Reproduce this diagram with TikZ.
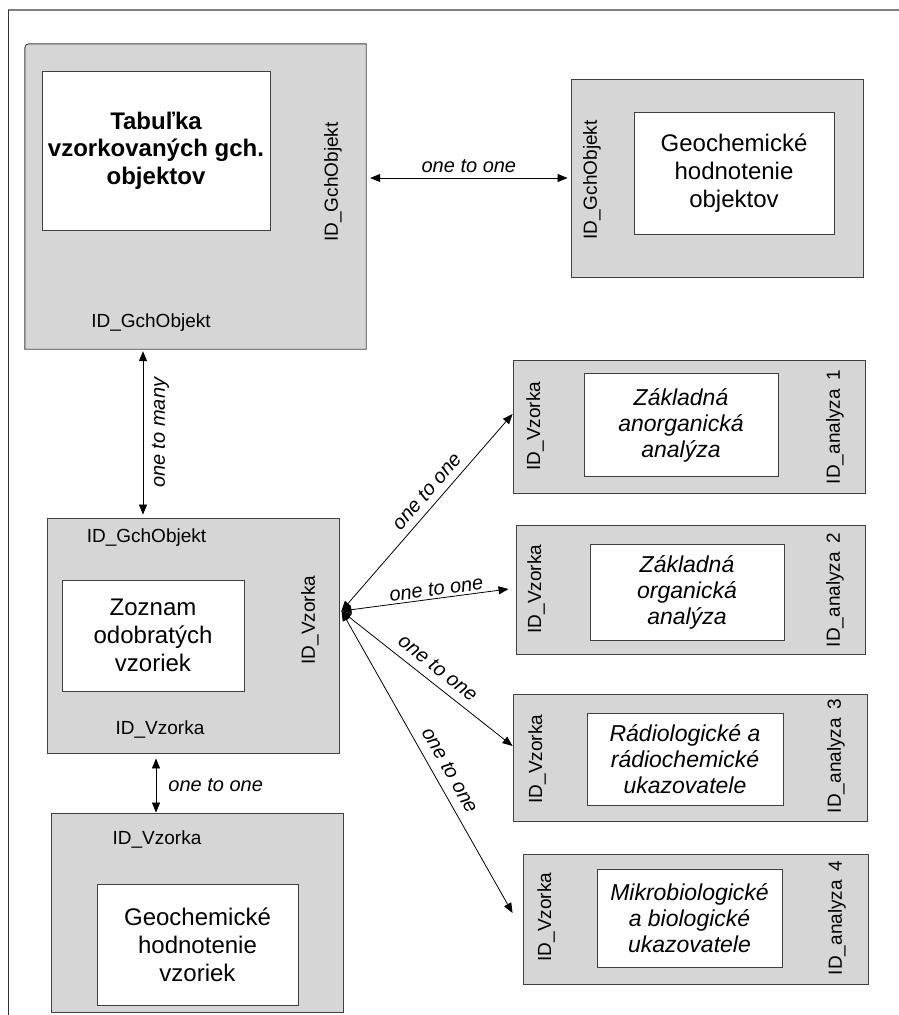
\documentclass[tikz,border=0pt]{standalone}
\usepackage{fontspec}
\setmainfont{Liberation Sans}
\usetikzlibrary{arrows.meta,calc}
\definecolor{boxgray}{HTML}{D6D6D6}
\definecolor{edge}{HTML}{404040}
\begin{document}
\begin{tikzpicture}[x=1pt,y=-1pt,
  outerbox/.style={draw=edge,line width=0.9pt,fill=boxgray,inner sep=0pt},
  innerbox/.style={draw=edge,line width=0.8pt,fill=white,inner sep=0pt,align=center},
  boxtext/.style={font=\fontsize{24}{28}\selectfont},
  ittext/.style={font=\fontsize{23}{26}\selectfont\itshape},
  bftext/.style={font=\fontsize{24}{27.5}\selectfont\bfseries},
  keylabel/.style={font=\fontsize{19}{22}\selectfont,inner sep=0pt},
  vkey/.style={keylabel,rotate=90},
  rel/.style={draw=black,line width=0.8pt,{Triangle[length=10pt,width=8pt]}-{Triangle[length=10pt,width=8pt]}},
  rellabel/.style={font=\fontsize{20}{22}\selectfont\itshape,inner sep=2pt},
]
\useasboundingbox (0,0) rectangle (898,1015);
% outer frame
\draw[line width=1.8pt,draw=black!50] (8,10) -- (905,10);
\draw[line width=1pt,draw=black!80] (8,10) -- (8,1025);

% box 1 (rounded top-left corner)
\node[inner sep=0pt,minimum width=341pt,minimum height=305pt] (b1) at (195.5,196.5) {};
\filldraw[fill=boxgray,draw=edge,line width=0.9pt]
  (b1.south west) -- ([yshift=-9pt]b1.north west) .. controls (b1.north west) .. ([xshift=9pt]b1.north west)
  -- (b1.north east) -- (b1.south east) -- cycle;
\node[innerbox,bftext,minimum width=228pt,minimum height=159pt] (t1) at (156,150.5) {Tabuľka\\vzorkovaných gch.\\objektov};
\node[vkey] (k1a) at (333,182) {ID\_GchObjekt};
\node[keylabel] (k1b) at (151,323) {ID\_GchObjekt};

% box 2
\node[outerbox,minimum width=292pt,minimum height=198pt] (b2) at (717,178) {};
\node[innerbox,boxtext,minimum width=200pt,minimum height=122pt] (t2) at (734,173) {Geochemické\\hodnotenie\\objektov};
\node[vkey] (k2) at (592,180) {ID\_GchObjekt};

% box 3
\node[outerbox,minimum width=292pt,minimum height=235pt] (b3) at (193,635.5) {};
\node[innerbox,boxtext,minimum width=182pt,minimum height=111pt] (t3) at (153,635.5) {Zoznam\\odobratých\\vzoriek};
\node[keylabel] (k3a) at (146.5,538) {ID\_GchObjekt};
\node[keylabel] (k3b) at (160,729) {ID\_Vzorka};
\node[vkey] (k3c) at (310,620) {ID\_Vzorka};

% box 4
\node[outerbox,minimum width=352pt,minimum height=133pt] (b4) at (689,426.5) {};
\node[innerbox,ittext,minimum width=194pt,minimum height=103pt] (t4) at (681,425) {Základná\\anorganická\\analýza};
\node[vkey] (k4a) at (535,426) {ID\_Vzorka};
\node[vkey] (k4b) at (835,427) {ID\_analyza\hspace{0.45em}1};

% box 5
\node[outerbox,minimum width=349pt,minimum height=129pt] (b5) at (690.5,589.5) {};
\node[innerbox,ittext,minimum width=194pt,minimum height=96pt] (t5) at (687,592) {Základná\\organická\\analýza};
\node[vkey] (k5a) at (536,589) {ID\_Vzorka};
\node[vkey] (k5b) at (835,590) {ID\_analyza\hspace{0.45em}2};

% box 6
\node[outerbox,minimum width=354pt,minimum height=127pt] (b6) at (690,757.5) {};
\node[innerbox,ittext,minimum width=196pt,minimum height=92pt] (t6) at (685,759) {Rádiologické a\\rádiochemické\\ukazovatele};
\node[vkey] (k6a) at (537,759) {ID\_Vzorka};
\node[vkey] (k6b) at (836,756) {ID\_analyza\hspace{0.45em}3};

% box 7
\node[outerbox,minimum width=345pt,minimum height=130pt] (b7) at (695.5,919) {};
\node[innerbox,ittext,minimum width=185pt,minimum height=98pt] (t7) at (689.5,918) {Mikrobiologické\\a biologické\\ukazovatele};
\node[vkey] (k7a) at (546,917) {ID\_Vzorka};
\node[vkey] (k7b) at (837,918) {ID\_analyza\hspace{0.45em}4};

% box 8
\node[outerbox,minimum width=292pt,minimum height=199pt] (b8) at (197,912.5) {};
\node[innerbox,boxtext,minimum width=201pt,minimum height=121pt] (t8) at (197.5,944.5) {Geochemické\\hodnotenie\\vzoriek};
\node[keylabel] (k8) at (157,839) {ID\_Vzorka};

% connectors
\draw[rel] ([xshift=4pt,yshift=18.5pt]b1.east) -- node[rellabel,above=3pt]{one to one} ([xshift=-3pt]b2.west);
\draw[rel] ([xshift=-52.5pt,yshift=-2pt]b1.south) -- node[rellabel,midway,xshift=6.5pt,anchor=north,rotate=90]{one to many} ([xshift=-50pt,yshift=3pt]b3.north);
\draw[rel] ([xshift=-37pt,yshift=-5pt]b3.south) -- node[rellabel,right=10pt]{one to one} ([xshift=-41pt]b8.north);

\coordinate (hub) at ([xshift=2pt,yshift=24.5pt]b3.east);
\draw[rel] (hub) -- node[rellabel,sloped,above=5pt,pos=0.56]{one to one} ([yshift=12.5pt]b4.west);
\draw[rel] (hub) -- node[rellabel,sloped,above=0.5pt,pos=0.575]{one to one} ([xshift=-7pt,yshift=0.5pt]b5.west);
\draw[rel] (hub) -- node[rellabel,sloped,above=6pt,pos=0.51]{one to one} ([yshift=11.5pt]b6.west);
\draw[rel] (hub) -- node[rellabel,sloped,above=7pt,pos=0.553]{one to one} ([xshift=-10pt,yshift=6pt]b7.west);
\end{tikzpicture}
\end{document}
